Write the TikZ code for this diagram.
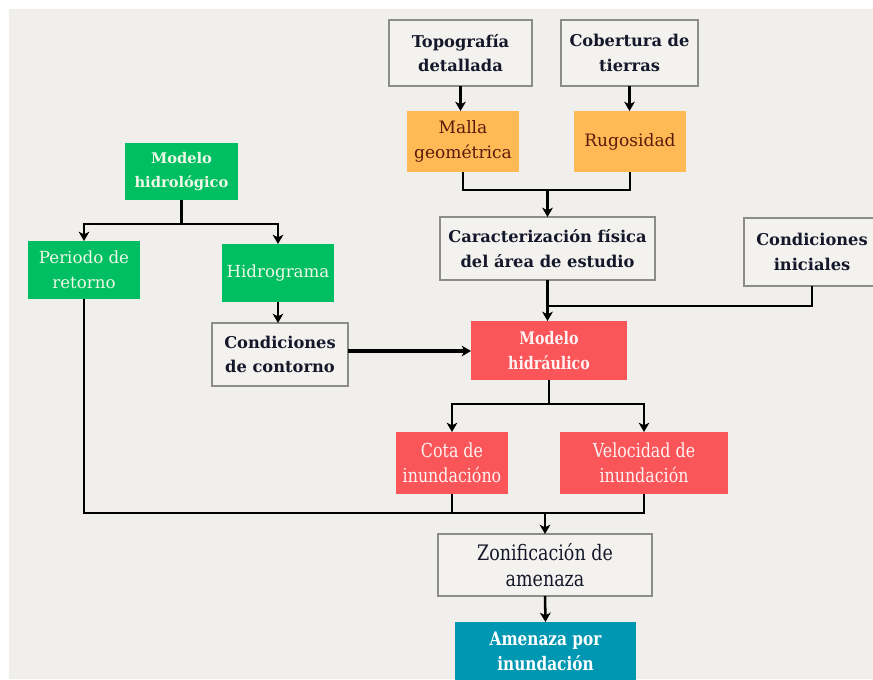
\documentclass[tikz,border=0pt]{standalone}
\usepackage{fontspec}
\setmainfont{DejaVu Serif}
\newfontfamily\condfont[FakeStretch=0.82]{DejaVu Serif}
\usetikzlibrary{arrows.meta}
\definecolor{bgc}{HTML}{F0EFEB}
\definecolor{boxfill}{HTML}{F3F2EF}
\definecolor{boxline}{HTML}{8C8C8C}
\definecolor{grn}{HTML}{00BF63}
\definecolor{org}{HTML}{FFBA55}
\definecolor{rd}{HTML}{FA5558}
\definecolor{teal}{HTML}{0097B2}
\definecolor{dtext}{HTML}{15182A}
\definecolor{otext}{HTML}{5A1A0C}
\definecolor{gtext}{HTML}{EEF8E6}
\definecolor{rtext}{HTML}{FFF2F2}
\tikzset{
  x=0.75pt, y=-0.75pt,
  base/.style={rectangle, align=center, inner sep=0pt, outer sep=0pt},
  graybox/.style={base, fill=boxfill, draw=boxline, line width=1.1pt, text=dtext, font=\fontsize{12.2}{18.5}\selectfont\bfseries},
  grnbox/.style={base, fill=grn, text=gtext, font=\fontsize{12.5}{18.5}\selectfont},
  orgbox/.style={base, fill=org, text=otext, font=\fontsize{12.8}{19}\selectfont},
  rdbox/.style={base, fill=rd, text=rtext, font=\condfont\fontsize{14.5}{19}\selectfont},
  tealbox/.style={base, fill=teal, text=white, font=\condfont\fontsize{14}{19}\selectfont\bfseries},
  conn/.style={line width=1.9pt, draw=black},
  arr/.style={conn, -{Stealth[length=7pt, width=8pt, inset=2pt]}},
}
\newcommand{\bx}[6]{\node[#1, minimum width=#4*0.75pt, minimum height=#5*0.75pt] (#2) at (#3) {#6};}
\begin{document}
\begin{tikzpicture}
\useasboundingbox (0,0) rectangle (873,679);
\clip (0,0) rectangle (873,679);
\fill[white] (0,0) rectangle (873,679);
\fill[bgc] (9,9) rectangle (873,679);

\bx{graybox}{topo}{460.5,53}{143}{66}{Topografía\\detallada}
\bx{graybox}{cob}{629.5,53}{137}{66}{Cobertura de\\tierras}
\bx{orgbox}{malla}{463,141.5}{112}{61}{Malla\\geométrica}
\bx{orgbox}{rug}{630,141.5}{112}{61}{Rugosidad}
\bx{graybox}{car}{547.5,248.5}{215}{63}{Caracterización física\\del área de estudio}
\node[graybox, minimum width=136*0.75pt, minimum height=68*0.75pt, text width=120*0.75pt] (ini) at (812,252) {Condiciones\\iniciales};
\node[grnbox, font=\fontsize{11}{18}\selectfont\bfseries, minimum width=113*0.75pt, minimum height=57*0.75pt] (mhid) at (181.5,171.5) {Modelo\\hidrológico};
\bx{grnbox}{per}{84,270}{112}{58}{Periodo de\\retorno}
\bx{grnbox}{hidro}{278,273}{112}{58}{Hidrograma}
\bx{graybox}{cont}{280,354.5}{136}{63}{Condiciones\\de contorno}
\node[rdbox, font=\condfont\fontsize{13}{19}\selectfont\bfseries, minimum width=156*0.75pt, minimum height=59*0.75pt] (mhyd) at (549,350.5) {Modelo\\hidráulico};
\bx{rdbox}{cota}{452,463}{112}{62}{Cota de\\inundacióno}
\bx{rdbox}{vel}{644,463}{168}{62}{Velocidad de\\inundación}
\node[base, fill=boxfill, draw=boxline, line width=1.1pt, text=dtext, font=\condfont\fontsize{16}{20}\selectfont, minimum width=214*0.75pt, minimum height=62*0.75pt] (zon) at (545,565) {Zonificación de\\amenaza};
\bx{tealbox}{amen}{545.5,651}{181}{58}{Amenaza por\\inundación}

% connectors
\draw[arr] (topo.south) -- (topo.south |- malla.north);
\draw[arr] (cob.south) -- (cob.south |- rug.north);
\coordinate (j1) at (547.5,190);
\draw[conn] (malla.south) |- (j1) -| (rug.south);
\draw[arr] (j1) -- (car.north);

\coordinate (j2) at (181.5,224);
\draw[conn] (mhid.south) -- (j2);
\draw[arr] (j2) -| (per.north);
\draw[arr] (j2) -| (hidro.north);
\draw[arr] (hidro.south) -- (hidro.south |- cont.north);

\draw[arr, line width=2.6pt] (cont.east |- 0,351) -- (mhyd.west |- 0,351);

\coordinate (j3) at (547.5,306);
\draw[arr] (car.south) -- (car.south |- mhyd.north);
\draw[conn] (ini.south) |- (j3);

\coordinate (j4) at (549,404);
\draw[conn] (mhyd.south) -- (j4);
\draw[arr] (j4) -| (cota.north);
\draw[arr] (j4) -| (vel.north);

\coordinate (j5) at (545,513);
\draw[conn] (per.south) |- (vel.south |- j5) -- (vel.south);
\draw[conn] (cota.south) -- (cota.south |- j5);
\draw[arr] (j5) -- (zon.north);
\draw[arr] (zon.south) -- (amen.north);
\end{tikzpicture}
\end{document}
